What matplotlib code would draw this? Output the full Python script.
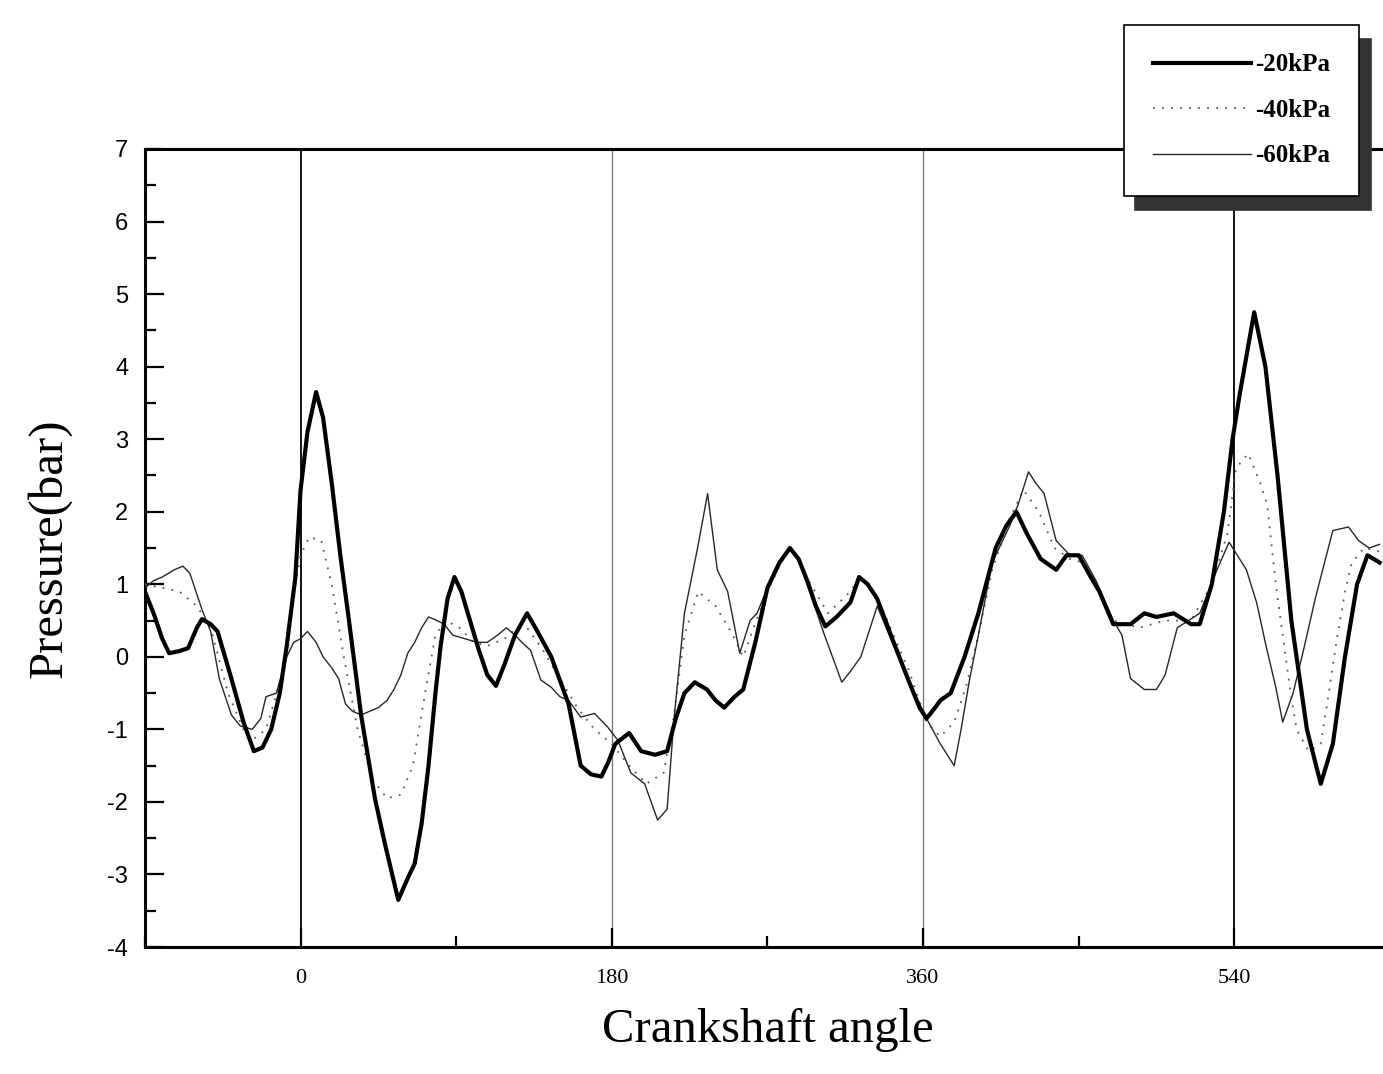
import numpy as np
import matplotlib
matplotlib.use('Agg')
import matplotlib.pyplot as plt
from matplotlib.font_manager import FontProperties
from matplotlib.ticker import MultipleLocator

'''############################################################################
   Data read off the figure (crank angle in deg, pressure in bar)
#############################################################################'''

ang_20 = [-90, -85, -80, -76, -70, -65, -60, -57, -52, -48,
          -40, -33, -27, -22, -17, -12, -8, -3, 0, 4,
          9, 13, 18, 23, 28, 35, 43, 49, 53, 56.5,
          62, 66, 70, 74, 78, 81, 85, 89, 93, 98,
          103, 108, 113, 118, 124, 131, 137, 145, 155, 162,
          168, 174, 178, 182, 190, 197, 205, 212, 217, 222,
          228, 235, 240, 245, 251, 256, 263, 270, 277, 283,
          288, 293, 298, 303.5, 310, 318, 323, 328, 333.5, 343,
          352, 358, 362, 367, 370, 376, 384, 392, 402, 408,
          414, 420, 428, 437, 443, 450, 457, 462, 470, 480,
          488, 495, 505, 515, 520, 527, 534, 539, 543, 551.5,
          558, 565, 573, 582, 590, 597, 604, 611, 617, 624]
p_20 = [0.9, 0.6, 0.25, 0.05, 0.08, 0.12, 0.4, 0.52, 0.45, 0.35,
        -0.3, -0.9, -1.3, -1.25, -1.0, -0.5, 0.15, 1.1, 2.3, 3.1,
        3.65, 3.3, 2.4, 1.4, 0.5, -0.8, -1.95, -2.6, -3.0, -3.35,
        -3.05, -2.85, -2.3, -1.5, -0.5, 0.15, 0.8, 1.1, 0.9, 0.5,
        0.1, -0.25, -0.4, -0.1, 0.3, 0.6, 0.35, 0.0, -0.65, -1.5,
        -1.62, -1.65, -1.45, -1.2, -1.05, -1.3, -1.35, -1.3, -0.85, -0.5,
        -0.35, -0.45, -0.6, -0.7, -0.55, -0.45, 0.2, 0.95, 1.3, 1.5,
        1.35, 1.05, 0.7, 0.42, 0.55, 0.75, 1.1, 1.0, 0.8, 0.2,
        -0.35, -0.7, -0.85, -0.7, -0.6, -0.5, 0.0, 0.6, 1.5, 1.8,
        2.0, 1.7, 1.35, 1.2, 1.4, 1.4, 1.1, 0.9, 0.45, 0.45,
        0.6, 0.55, 0.6, 0.45, 0.45, 1.0, 2.0, 3.0, 3.6, 4.75,
        4.0, 2.5, 0.5, -1.0, -1.75, -1.2, 0.0, 1.0, 1.4, 1.3]

ang_40 = [-90, -80, -70, -60, -52, -42, -33, -28, -20, -10,
          -5, 0, 5, 12, 18, 25, 33, 42, 50, 58,
          65, 72, 78, 84, 92, 100, 108, 118, 125, 131,
          140, 150, 160, 170, 180, 190, 200, 210, 216, 222,
          230, 240, 250, 256, 262, 270, 280, 284, 295, 305,
          318, 323, 333, 352, 362, 370, 378, 385, 392, 400,
          410, 418, 427, 436, 445, 452, 462, 470, 485, 500,
          515, 527, 536, 541, 548, 555, 559, 564, 568, 572,
          576, 583, 590, 594, 599, 604, 608, 615, 624]
p_40 = [1.0, 0.95, 0.9, 0.7, 0.4, -0.5, -1.0, -1.15, -1.0, -0.2,
        0.7, 1.4, 1.65, 1.6, 1.0, 0.0, -1.0, -1.7, -1.95, -1.9,
        -1.5, -0.5, 0.3, 0.5, 0.4, 0.2, 0.15, 0.25, 0.4, 0.4,
        0.1, -0.3, -0.7, -1.0, -1.2, -1.5, -1.75, -1.6, -0.8, 0.3,
        0.9, 0.7, 0.3, 0.0, 0.4, 0.9, 1.4, 1.5, 1.0, 0.6,
        0.9, 1.1, 0.85, -0.2, -0.9, -1.1, -0.9, -0.4, 0.3, 1.2,
        1.9, 2.3, 2.0, 1.5, 1.35, 1.3, 0.9, 0.5, 0.4, 0.5,
        0.5, 1.0, 1.7, 2.6, 2.8, 2.4, 2.1, 1.0, 0.3, -0.4,
        -1.0, -1.3, -1.2, -0.6, 0.2, 0.9, 1.3, 1.5, 1.45]

ang_60 = [-90, -85, -80, -73, -68, -64, -57, -52, -47, -40,
          -35, -28, -23, -20, -14, -8, -4, 0, 4, 9,
          13, 18, 22, 26, 30, 35, 40, 45, 50, 54,
          58, 62, 66, 70, 74, 79, 83, 88, 95, 102,
          108, 114, 119, 124, 128, 133, 139, 145, 150, 155,
          162, 170, 177.7, 183.5, 191, 199, 206.5, 212, 216, 222,
          229.6, 235.4, 241, 247, 254, 260, 264, 270, 277, 283,
          288, 293, 303, 313, 318, 324, 333.5, 343, 352, 362,
          370, 378, 382, 387, 392, 400, 410, 415, 421, 425,
          430, 437, 445, 452, 460, 470, 475, 480, 488, 495,
          500, 507, 520, 530, 537, 547, 553, 558, 564, 568,
          574, 580, 587, 597, 606, 612, 618, 624]
p_60 = [0.95, 1.05, 1.1, 1.2, 1.25, 1.15, 0.65, 0.35, -0.3, -0.8,
        -0.95, -1.0, -0.85, -0.55, -0.5, 0.0, 0.2, 0.25, 0.35, 0.2,
        0.0, -0.15, -0.3, -0.65, -0.75, -0.8, -0.75, -0.7, -0.6, -0.45,
        -0.25, 0.05, 0.2, 0.4, 0.55, 0.5, 0.45, 0.3, 0.25, 0.2,
        0.2, 0.3, 0.4, 0.3, 0.2, 0.09, -0.32, -0.42, -0.55, -0.6,
        -0.83, -0.78, -0.97, -1.15, -1.6, -1.75, -2.25, -2.1, -0.85, 0.6,
        1.5, 2.25, 1.2, 0.9, 0.05, 0.5, 0.6, 0.95, 1.3, 1.5,
        1.35, 1.0, 0.3, -0.35, -0.2, 0.0, 0.7, 0.15, -0.35, -0.85,
        -1.2, -1.5, -1.0, -0.3, 0.3, 1.3, 1.8, 2.1, 2.55, 2.4,
        2.25, 1.6, 1.4, 1.4, 1.05, 0.5, 0.3, -0.3, -0.45, -0.45,
        -0.25, 0.4, 0.6, 1.2, 1.58, 1.2, 0.74, 0.19, -0.42, -0.9,
        -0.5, 0.09, 0.82, 1.74, 1.79, 1.6, 1.5, 1.55]

labels = ['-20kPa', '-40kPa', '-60kPa']
tdc_lines = [0, 540]
bdc_lines = [180, 360]

'''############################################################################
   Plot
#############################################################################'''

plt.rcParams['axes.unicode_minus'] = False
serif = ['Liberation Serif', 'DejaVu Serif']
fig = plt.figure(figsize=(13.83, 10.74), dpi=100)
ax = fig.add_axes([0.1048, 0.1182, 0.9002, 0.7431])

for x in tdc_lines:
    ax.axvline(x, color='black', lw=1.3, zorder=1)
for x in bdc_lines:
    ax.axvline(x, color='0.45', lw=0.9, zorder=1)

l1, = ax.plot(ang_20, p_20, color='black', lw=3.0, zorder=4)
l2, = ax.plot(ang_40, p_40, color='0.35', lw=1.3, linestyle=(0, (1, 4)), zorder=3)
l3, = ax.plot(ang_60, p_60, color='0.15', lw=1.0, zorder=3)

ax.set_xlim(-90, 630)
ax.set_ylim(-4, 7)
ax.set_xticks([0, 180, 360, 540])
ax.xaxis.set_minor_locator(MultipleLocator(90))
ax.yaxis.set_major_locator(MultipleLocator(1))
ax.yaxis.set_minor_locator(MultipleLocator(0.5))
ax.tick_params(axis='both', which='major', direction='in', length=14, width=1.6, colors='black')
ax.tick_params(axis='both', which='minor', direction='in', length=8, width=1.6)
ax.tick_params(axis='y', which='major', pad=12, labelsize=17)
ax.tick_params(axis='x', which='major', pad=16, labelsize=16)
for t in ax.get_xticklabels():
    t.set_family(serif)
for t in ax.get_yticklabels():
    t.set_family(['Liberation Sans', 'DejaVu Sans'])
for s in ax.spines.values():
    s.set_linewidth(2.2)

ax.set_xlabel('Crankshaft angle', family=serif, fontsize=35, labelpad=14)
ax.set_ylabel('Pressure(bar)', family=serif, fontsize=35, labelpad=26)

fontP = FontProperties(family=serif, size=18, weight='bold')
leg = fig.legend([l1, l2, l3], labels, loc='upper right', bbox_to_anchor=(0.983, 0.977),
                 prop=fontP, frameon=True, fancybox=False, edgecolor='black',
                 framealpha=1, handlelength=3.9, handletextpad=0.2, labelspacing=0.9,
                 borderpad=1.15, borderaxespad=0,
                 shadow={'ox': 8, 'oy': -10, 'color': '0.2', 'alpha': 1})
leg.get_frame().set_linewidth(1.2)

fig.savefig('out.png', dpi=100)
plt.close()
